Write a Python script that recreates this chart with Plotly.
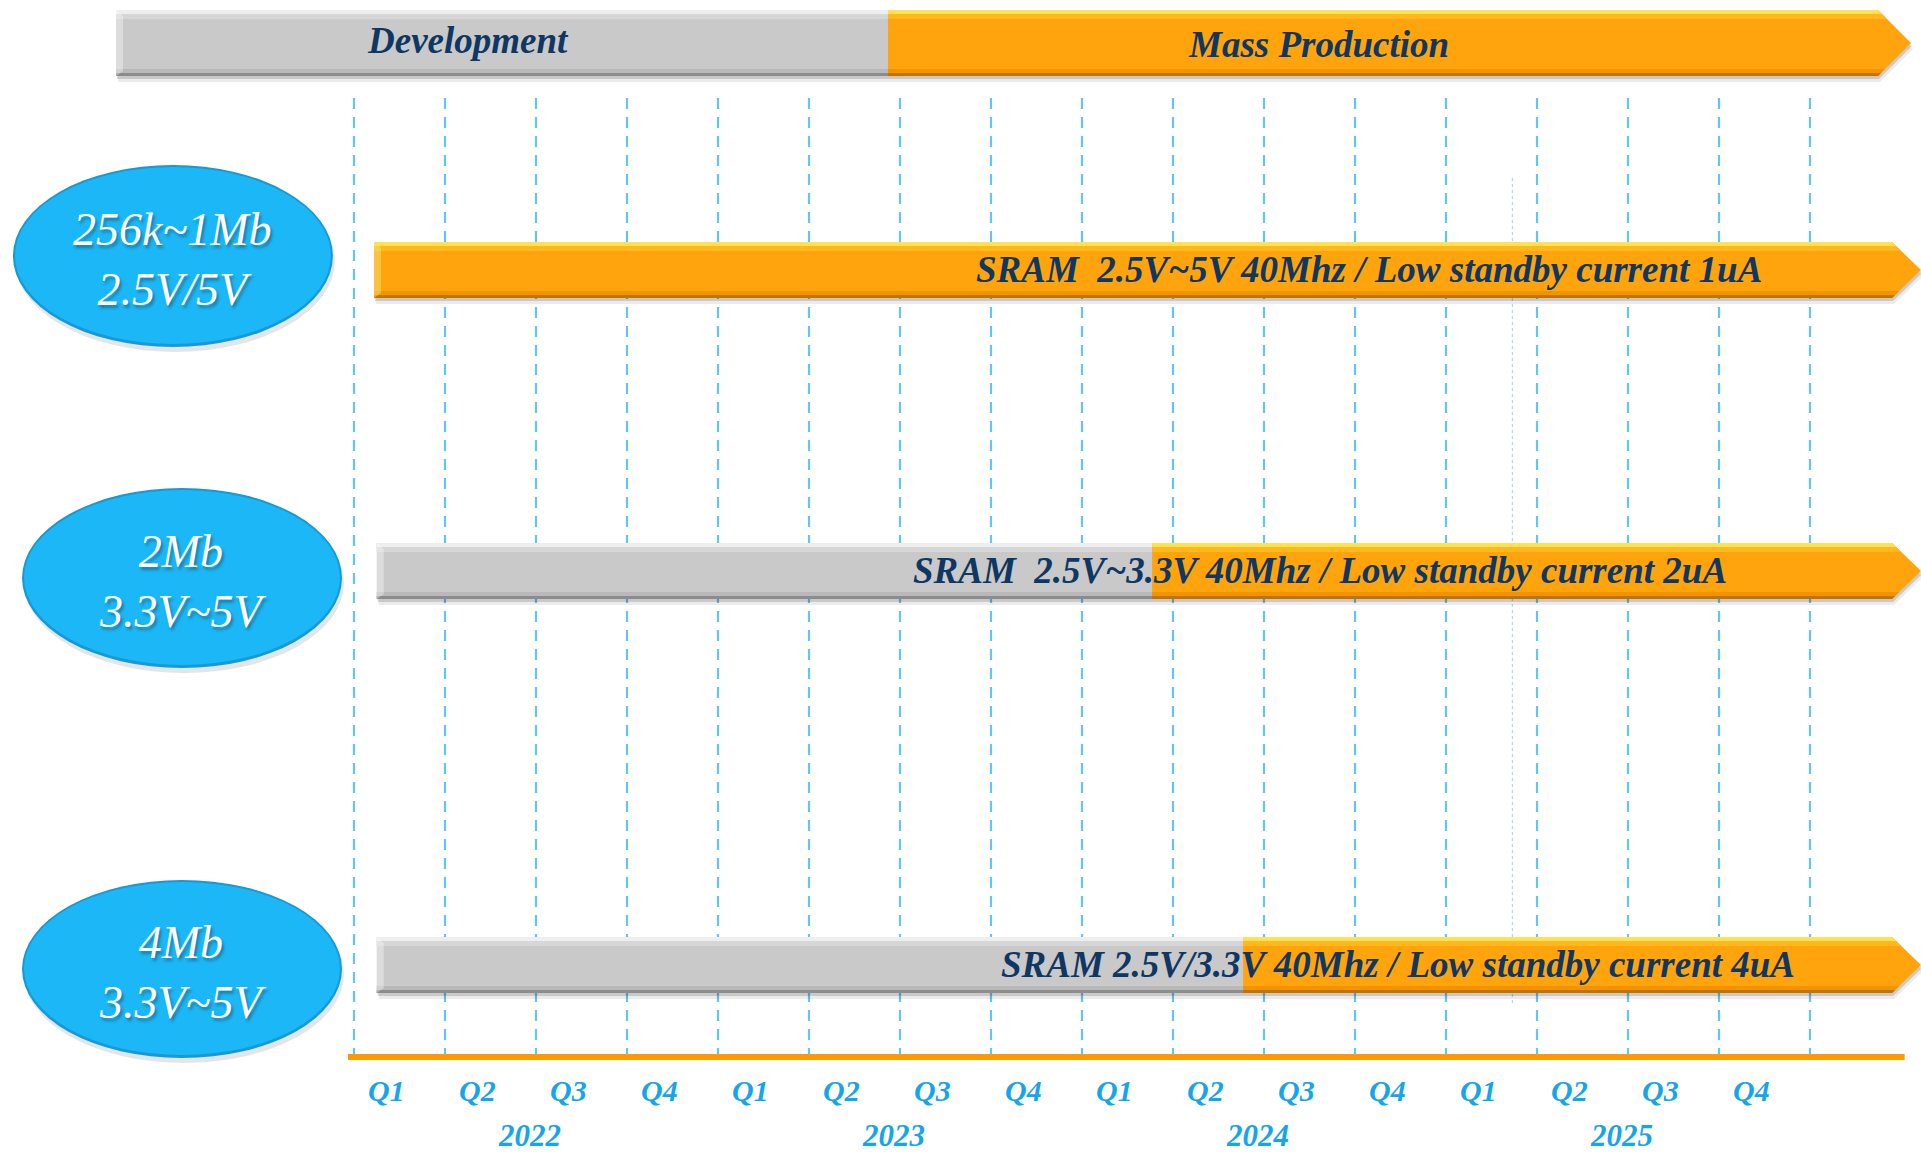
import plotly.graph_objects as go

# ---------------- data ----------------
quarter_labels = ["Q1", "Q2", "Q3", "Q4"] * 4
years = ["2022", "2023", "2024", "2025"]
product_names = ["256k~1Mb<br>2.5V/5V", "2Mb<br>3.3V~5V", "4Mb<br>3.3V~5V"]
product_specs = [
    "SRAM\u00a0\u00a02.5V~5V 40Mhz / Low standby current 1uA",
    "SRAM\u00a0\u00a02.5V~3.3V 40Mhz / Low standby current 2uA",
    "SRAM 2.5V/3.3V 40Mhz / Low standby current 4uA",
]
# positions in quarters since 2022 Q1
bar_start_q = [0.22, 0.25, 0.25]
mass_prod_start_q = [0.22, 8.77, 9.77]
bar_end_q = [17.22, 17.22, 17.22]
spec_label_q = [11.15, 10.62, 11.47]
phase_names = ["Development", "Mass Production"]
phase_start_q = [-2.615, 5.868]
phase_end_q = 17.11
phase_label_q = [1.25, 10.6]
marker_q = 12.73  # thin dotted reference line

# ---------------- layout constants ----------------
W, H = 1921, 1156
PX_PER_Q = 91.0
X0_PX = 354.0
X_RANGE = [-X0_PX / PX_PER_Q, (W - X0_PX) / PX_PER_Q]


def dq(px):
    return px / PX_PER_Q


ROW_Y = [270, 571, 965]
BAR_HALF = 28
BANNER_Y, BANNER_HALF = 43, 33
ELL = [(-1.99, 256, 91), (-1.89, 578, 90), (-1.89, 969, 89)]
ELL_RX = dq(160)
GRID_Y0, AXIS_Y = 98, 1057
Q_LABEL_Y, YEAR_LABEL_Y = 1090, 1135

SERIF = "Liberation Serif, Times New Roman, serif"
NAVY = "#0E3763"
LABEL_BLUE = "#17A5EA"

ORANGE = dict(main="#FFA40C", band="#FFB81E", top="#FFE24E", low="#F29400", bottom="#C27400")
GRAY = dict(main="#C9C9C9", band="#D6D6D6", top="#EEEEEE", low="#B9B9B9", bottom="#8C8C8C")

shapes = []
annotations = []


def poly(points):
    return "M " + " L ".join(f"{x:.4f},{y:.2f}" for x, y in points) + " Z"


def add_poly(points, fill, opacity=1.0):
    shapes.append(dict(type="path", xref="x", yref="y", path=poly(points),
                       fillcolor=fill, line=dict(width=0), opacity=opacity, layer="above"))


def seg_points(xs, xe, y0, y1, tip, tip_len, inset_top=None, inset_bot=None):
    """polygon for a bar segment; if tip, xe is the arrow tip"""
    ym = (y0 + y1) / 2
    half = (y1 - y0) / 2
    if tip:
        xb = xe - dq(tip_len)
        pts = [(xs, y0), (xb, y0), (xe, ym), (xb, y1), (xs, y1)]
    else:
        xb = xe
        pts = [(xs, y0), (xe, y0), (xe, y1), (xs, y1)]
    bands = []
    for t, col in inset_top or []:
        if tip:
            xi = xb + (xe - xb) * t / half
            bands.append(([(xs, y0), (xb, y0), (xi, y0 + t), (xs, y0 + t)], col))
        else:
            bands.append(([(xs, y0), (xe, y0), (xe, y0 + t), (xs, y0 + t)], col))
    for t, col in inset_bot or []:
        if tip:
            xi = xb + (xe - xb) * t / half
            bands.append(([(xs, y1 - t), (xi, y1 - t), (xb, y1), (xs, y1)], col))
        else:
            bands.append(([(xs, y1 - t), (xe, y1 - t), (xe, y1), (xs, y1)], col))
    return pts, bands


def draw_bar(xs, xm, xe, yc, half, tip_len):
    y0, y1 = yc - half, yc + half
    # shadow
    sh_pts, _ = seg_points(xs + dq(2), xe + dq(2), y0 + 6, y1 + 6, True, tip_len)
    add_poly(sh_pts, "rgba(0,0,0,0.08)")
    sh_pts, _ = seg_points(xs + dq(1), xe + dq(1), y0 + 3, y1 + 3, True, tip_len)
    add_poly(sh_pts, "rgba(0,0,0,0.14)")
    segs = []
    if xm > xs + 1e-6:
        segs.append((xs, xm, False, GRAY))
    segs.append((xm, xe, True, ORANGE))
    for a, b, tip, c in segs:
        pts, bands = seg_points(a, b, y0, y1, tip, tip_len,
                                inset_top=[(9, c["band"]), (4, c["top"])],
                                inset_bot=[(7, c["low"]), (3, c["bottom"])])
        add_poly(pts, c["main"])
        for bp, col in bands:
            add_poly(bp, col)
    # left bevel
    add_poly([(xs, y0), (xs + dq(7), y0 + 6), (xs + dq(7), y1 - 5), (xs, y1)],
             "rgba(255,255,255,0.35)" if xm > xs + 1e-6 else "rgba(255,230,120,0.45)")


# dashed quarter grid lines
for k in range(len(quarter_labels) + 1):
    shapes.append(dict(type="line", xref="x", yref="y", x0=k, x1=k, y0=GRID_Y0, y1=AXIS_Y,
                       line=dict(color="#63C6F2", width=2.2, dash="11px,8px"), layer="below"))
shapes.append(dict(type="line", xref="x", yref="y", x0=marker_q, x1=marker_q, y0=178, y1=1005,
                   line=dict(color="#A6DDF0", width=1.3, dash="dot"), layer="below"))

# time axis line
shapes.append(dict(type="line", xref="x", yref="y", x0=-0.066, x1=17.04, y0=AXIS_Y, y1=AXIS_Y,
                   line=dict(color="#FF9900", width=6), layer="above"))

# phase banner
draw_bar(phase_start_q[0], phase_start_q[1], phase_end_q, BANNER_Y, BANNER_HALF, 33)
for name, xq, dy in zip(phase_names, phase_label_q, [-3, 1]):
    annotations.append(dict(x=xq, y=BANNER_Y + dy, xref="x", yref="y", text=name, showarrow=False,
                            font=dict(family=SERIF, size=37, color=NAVY, weight="bold", style="italic")))

# product bars
for i in range(len(product_specs)):
    draw_bar(bar_start_q[i], mass_prod_start_q[i], bar_end_q[i], ROW_Y[i], BAR_HALF, 29)
    annotations.append(dict(x=spec_label_q[i], y=ROW_Y[i] - 1, xref="x", yref="y",
                            text=product_specs[i], showarrow=False,
                            font=dict(family=SERIF, size=37, color=NAVY, weight="bold", style="italic")))

# product ellipses
for (cx, cy, ry), name in zip(ELL, product_names):
    shapes.append(dict(type="circle", xref="x", yref="y",
                       x0=cx - ELL_RX + dq(2), x1=cx + ELL_RX + dq(2), y0=cy - ry + 5, y1=cy + ry + 5,
                       fillcolor="rgba(0,0,0,0.10)", line=dict(width=0), layer="above"))
    shapes.append(dict(type="circle", xref="x", yref="y",
                       x0=cx - ELL_RX, x1=cx + ELL_RX, y0=cy - ry, y1=cy + ry,
                       fillcolor="#1699D4", line=dict(width=0), layer="above"))
    shapes.append(dict(type="circle", xref="x", yref="y",
                       x0=cx - ELL_RX + dq(2), x1=cx + ELL_RX - dq(2), y0=cy - ry + 2, y1=cy + ry - 3,
                       fillcolor="#1CB7F6", line=dict(width=0), layer="above"))
    annotations.append(dict(x=cx, y=cy + 3, xref="x", yref="y", text=name, showarrow=False,
                            font=dict(family=SERIF, size=46, color="white", style="italic",
                                      shadow="2px 3px 3px rgba(0,0,0,0.30)")))

# quarter and year labels
for k, q in enumerate(quarter_labels):
    annotations.append(dict(x=k + 0.36, y=Q_LABEL_Y, xref="x", yref="y", text=q, showarrow=False,
                            font=dict(family=SERIF, size=30, color=LABEL_BLUE, weight="bold", style="italic")))
for i, yr in enumerate(years):
    annotations.append(dict(x=4 * i + 2 - 0.07, y=YEAR_LABEL_Y, xref="x", yref="y", text=yr,
                            showarrow=False,
                            font=dict(family=SERIF, size=31, color=LABEL_BLUE, weight="bold", style="italic")))

fig = go.Figure()
fig.add_trace(go.Scatter(x=[X_RANGE[0]], y=[0], mode="markers", marker=dict(opacity=0),
                         hoverinfo="skip", showlegend=False))
fig.update_layout(
    width=W, height=H, margin=dict(l=0, r=0, t=0, b=0),
    paper_bgcolor="white", plot_bgcolor="white",
    xaxis=dict(range=X_RANGE, visible=False, showgrid=False, zeroline=False, fixedrange=True),
    yaxis=dict(range=[H, 0], visible=False, showgrid=False, zeroline=False, fixedrange=True),
    shapes=shapes, annotations=annotations, showlegend=False,
)
fig.write_html("out.html", config={"displayModeBar": False},
               post_script="document.body.style.margin='0';document.body.style.overflow='hidden';")
